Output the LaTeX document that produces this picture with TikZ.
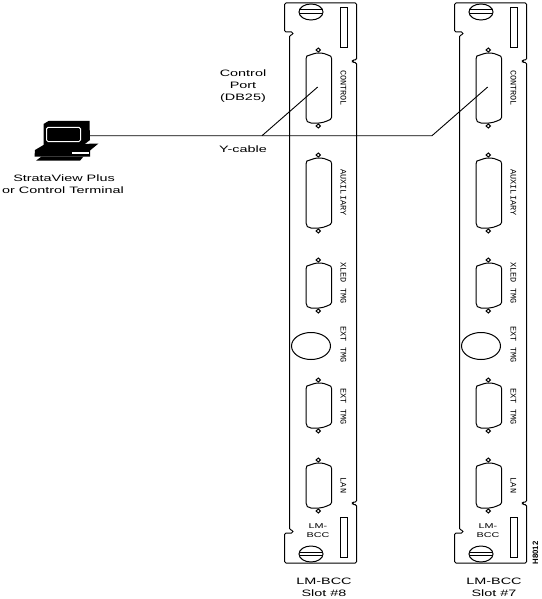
\documentclass[tikz,border=0pt]{standalone}
\usepackage{fontspec}
\setmainfont[FakeStretch=1.55]{Liberation Sans}
\newfontfamily\rotfont{Liberation Mono}
\newfontfamily\idfont{Liberation Sans}
\newcommand{\connector}[2]{% top y, bottom y
  \draw[cardline] (306,#1+6) .. controls (306,#1+3) and (307,#1+2.5) .. (310,#1+2)
     .. controls (313,#1+1) and (315,#1) .. (319,#1)
     .. controls (323,#1) and (326,#1+1) .. (328,#1+2)
     .. controls (330.5,#1+3) and (331.7,#1+3) .. (331.7,#1+6)
     -- (331.7,#2-6) .. controls (331.7,#2-4) and (330,#2-3) .. (327,#2-2)
     .. controls (324,#2-1) and (322,#2) .. (319,#2)
     -- (311,#2) .. controls (308,#2) and (306,#2-2) .. (306,#2-5) -- cycle;
  \draw[cardline] (318.3,#1-5) -- (320.5,#1-3) -- (318.3,#1-1) -- (316.1,#1-3) -- cycle;
  \draw[cardline] (318.3,#2+1) -- (320.5,#2+3) -- (318.3,#2+5) -- (316.1,#2+3) -- cycle;
}
\newcommand{\screw}[1]{%
  \draw[cardline] (311,#1) ellipse [x radius=12, y radius=8];
  \draw[cardline] (299,#1-2) -- (323,#1-2) (299,#1+1.5) -- (323,#1+1.5);
}
\tikzset{
  cardline/.style={line width=1pt},
  lbl/.style={font=\fontsize{9.3}{10}\selectfont, inner sep=0pt, align=center},
  innerlbl/.style={font=\fontsize{7}{9}\selectfont, inner sep=0pt, align=center},
  rotlbl/.style={font=\rotfont\fontsize{8.5}{9}\selectfont, inner sep=0pt, rotate=-90},
  cable/.style={line width=0.9pt}
}
\newcommand{\card}[2]{% x offset, label shift
\begin{scope}[xshift=#1pt]
  \draw[cardline,rounded corners=1.5pt] (289.5,35) -- (293,35) -- (293,32) -- (284.5,32) -- (284.5,3) -- (356.7,3)
     -- (356.7,60) -- (352.3,60) -- (352.3,62.5) -- (356.7,62.5) -- (356.7,502)
     -- (352.3,502) -- (352.3,504.5) -- (356.7,504.5) -- (356.7,563) -- (284.5,563)
     -- (284.5,533) -- (293,533) -- (293,530) -- (289.5,530) -- cycle;
  \screw{12}
  \screw{554}
  \draw[cardline] (340.3,8) rectangle (347.7,48);
  \draw[cardline] (340.3,517) rectangle (347.7,557);
  \connector{53}{123}
  \connector{158}{228}
  \connector{263}{308}
  \connector{383}{428}
  \connector{463}{508}
  \draw[cardline] (311,346) ellipse [x radius=19.5, y radius=13.5];
  \node[rotlbl] (ctl#1) at (343.5,88) {CONTROL};
  \node[rotlbl] (aux#1) at (343.5,192.5) {AUXILIARY};
  \node[rotlbl] (xled#1) at (343.5,283) {XLED TMG};
  \node[rotlbl] (exta#1) at (343.5,344.5) {EXT TMG};
  \node[rotlbl] (extb#1) at (343.5,406.5) {EXT TMG};
  \node[rotlbl] (lan#1) at (343.5,485.5) {LAN};
  \node[innerlbl] (inner#1) at (318,530.5) {LM-\\BCC};
  \node[lbl] (slot#1) at (324,587) {LM-BCC\\[1.6pt]Slot \##2};
\end{scope}
}
\begin{document}
\begin{tikzpicture}[x=1pt,y=-1pt]
\useasboundingbox (0,0) rectangle (541,599);
\fill[white] (0,0) rectangle (541,599);
\card{0}{8}
\card{170}{7}
% terminal
\fill (43.5,124) -- (48.5,121) -- (89.5,121) -- (90,140) -- (83.5,145) -- (43.5,145) -- cycle;
\draw[white,line width=1pt,rounded corners=1.5pt] (46.5,127.3) rectangle (80.5,141.5);
\fill (35,150) -- (43.5,145) -- (98.5,143.5) -- (90,150.5) -- (90,156.5) -- (34.5,156.5) -- cycle;
\fill[white] (71.5,151.7) rectangle (88.5,154.3);
\fill (36,160.7) -- (41.5,156.5) -- (83.5,156.5) -- (80,160.7) -- cycle;
\coordinate (pc) at (90,135.7);
\coordinate (joinA) at (262,135.7);
\coordinate (joinB) at (432,135.7);
\coordinate (endA) at (317.7,87);
\coordinate (endB) at (487.7,87);
\draw[cable] (pc) -- (joinB) -- (endB);
\draw[cable] (joinA) -- (endA);
\node[lbl] (sv) at (64,178) {StrataView Plus};
\node[lbl] (cterm) at (63,190) {or Control Terminal};
\node[lbl] (cp) at (243,86) {Control\\[1.6pt]Port\\[1.6pt](DB25)};
\node[lbl] (yc) at (243,149) {Y-cable};
\node[font=\idfont\bfseries\fontsize{7.8}{8}\selectfont, inner sep=0pt, rotate=90] (hb) at (535.5,553) {H8012};
\end{tikzpicture}
\end{document}
